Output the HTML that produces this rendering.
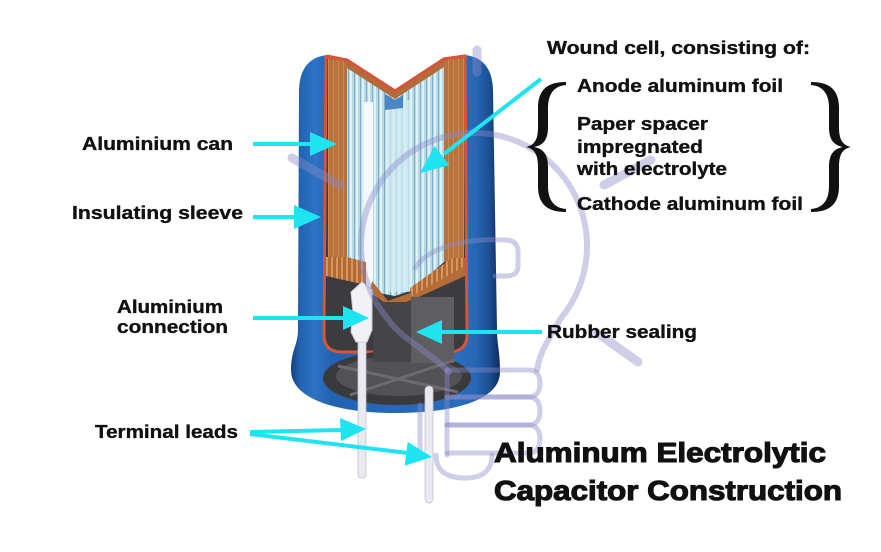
<!DOCTYPE html>
<html><head><meta charset="utf-8"><style>
html,body{margin:0;padding:0;background:#fff;}
svg{display:block;}
text{font-family:"Liberation Sans",Arial,sans-serif;font-weight:bold;fill:#111;stroke:#111;stroke-width:0.35;}
text.t{stroke-width:1.1;}
</style></head><body>
<svg width="881" height="552" viewBox="0 0 881 552" xmlns="http://www.w3.org/2000/svg">
<defs>
 <linearGradient id="bg" gradientUnits="userSpaceOnUse" x1="290" y1="0" x2="500" y2="0">
  <stop offset="0" stop-color="#163d7c"/>
  <stop offset="0.05" stop-color="#2264b2"/>
  <stop offset="0.12" stop-color="#2d74c4"/>
  <stop offset="0.2" stop-color="#2262b0"/>
  <stop offset="0.8" stop-color="#2a6dbd"/>
  <stop offset="0.88" stop-color="#2768b6"/>
  <stop offset="0.95" stop-color="#1c4e92"/>
  <stop offset="1" stop-color="#0f2a5a"/>
 </linearGradient>
 <pattern id="foil" patternUnits="userSpaceOnUse" width="6" height="10">
  <rect width="6" height="10" fill="#b5d9e7"/>
  <rect x="0" width="1" height="10" fill="#7fb0c6"/>
  <rect x="2" width="2" height="10" fill="#e0f1f7"/>
 </pattern>
 <pattern id="brn" patternUnits="userSpaceOnUse" width="5" height="10">
  <rect width="5" height="10" fill="#b8723e"/>
  <rect x="3" width="1" height="10" fill="#cf8a50"/>
 </pattern>
 <pattern id="teeth" patternUnits="userSpaceOnUse" width="5" height="10">
  <rect width="5" height="10" fill="#b06a36"/>
  <rect x="1" width="2" height="10" fill="#d9955c"/>
 </pattern>
</defs>

<!-- body -->
<path d="M327,55 Q300,58 299,90 L298,330 C298,345 291,350 291,370 C291,400 340,413 395,413 C455,413 500,400 500,372 C500,350 497,345 497,330 L493,90 Q492,58 465,55 L444,58 L395,90 L347,59 Z" fill="url(#bg)"/>

<!-- interior -->
<path d="M326,57 L347,60 L395,91 L444,59 L465,56 L467,335 Q467,352 448,352 L342,352 Q324,352 324,335 Z" fill="#3c3c3e" stroke="#d5553a" stroke-width="3"/>

<!-- brown walls -->
<polygon points="328,59 347,61 347,257 328,257" fill="url(#brn)"/>
<polygon points="444,60 464,58 464,262 444,262" fill="url(#brn)"/>
<!-- foil left -->
<polygon points="347,66 373,83 373,262 347,262" fill="url(#foil)"/>
<!-- white strip -->
<polygon points="364,102 373,102 373,295 364,295" fill="#f4f8fa"/>
<!-- center foil -->
<polygon points="373,84 395,98 444,66 444,262 412,290 395,296 373,292" fill="url(#foil)"/>
<rect x="388" y="100" width="22" height="192" fill="#d2eaf3" opacity="0.75"/>
<!-- V brown band -->
<polygon points="347,61 395,92 444,60 444,67 395,99 347,68" fill="#b36b3a"/>
<path d="M327,56 L347,60 L395,91 L444,59 L465,56" fill="none" stroke="#d5553a" stroke-width="3"/>
<!-- core top -->
<polygon points="385,94 395,100 403,95 403,108 385,110" fill="#4a86c4"/>
<!-- brown bottoms with teeth -->
<polygon points="326,257 347,257 366,262 366,285 326,276" fill="url(#teeth)"/>
<polygon points="372,281 388,301 410,293 452,262 465,262 465,276 412,300 390,307 370,292" fill="#b46c38"/>
<polygon points="410,288 452,258 465,258 465,266 412,296" fill="url(#teeth)"/>

<!-- bottom opening -->
<ellipse cx="397" cy="378" rx="74" ry="27" fill="#3a3a3c"/>
<ellipse cx="399" cy="376" rx="63" ry="20" fill="#525255"/>
<!-- rubber -->
<rect x="373" y="302" width="39" height="60" fill="#454547"/>
<rect x="411" y="297" width="43" height="66" fill="#5e5e61"/>
<line x1="338" y1="366" x2="458" y2="392" stroke="#6c6c70" stroke-width="3"/>
<line x1="350" y1="395" x2="455" y2="360" stroke="#6c6c70" stroke-width="3"/>

<!-- leads -->
<rect x="358" y="320" width="8" height="158" rx="3" fill="#e9e9f0" stroke="#c2c2cf" stroke-width="0.8"/>
<rect x="425" y="386" width="8" height="117" rx="4" fill="#e9e9f0" stroke="#c2c2cf" stroke-width="0.8"/>
<!-- tab -->
<polygon points="351,292 362,282 372,290 372,330 367,342 356,342 351,332 353,312" fill="#f2f2f6" stroke="#cfcfd9" stroke-width="1"/>

<!-- watermark lightbulb -->
<g fill="none" stroke="#8a8ac8" stroke-opacity="0.42" stroke-linecap="round" stroke-linejoin="round">
 <path d="M449,372 C430,352 400,338 387,318 A113 113 0 1 1 561,318 C550,338 540,350 537,370" stroke-width="6"/>
 <path d="M415,268 C430,245 470,238 505,240 Q518,240 518,252 L518,266 Q518,276 506,276 L495,276" stroke-width="5"/>
 <path d="M447,370 L528,370 Q540,370 540,383 Q540,397 528,397 L447,397" stroke-width="5"/>
 <path d="M447,397 L528,397 Q540,397 540,411 Q540,425 528,425 L447,425" stroke-width="5"/>
 <path d="M447,425 L528,425 Q540,425 540,439 Q540,453 528,453 L447,453" stroke-width="5"/>
 <path d="M447,370 L447,455" stroke-width="5"/>
 <path d="M420,405 L420,455" stroke-width="5"/>
 <path d="M436,455 Q436,478 465,478 Q492,478 492,455" stroke-width="5"/>
 <line x1="477" y1="50" x2="477" y2="72" stroke-width="9"/>
 <line x1="292" y1="158" x2="340" y2="185" stroke-width="9"/>
 <line x1="604" y1="185" x2="651" y2="160" stroke-width="9"/>
 <line x1="596" y1="332" x2="638" y2="362" stroke-width="9"/>
</g>

<!-- arrows -->
<g fill="#1ee3f0" stroke="#1ee3f0">
 <line x1="253" y1="144" x2="312" y2="144" stroke-width="4"/>
 <polygon points="337,144 310,132 310,156" stroke="none"/>
 <line x1="253" y1="217" x2="296" y2="217" stroke-width="4"/>
 <polygon points="321,217 294,205 294,229" stroke="none"/>
 <line x1="253" y1="318" x2="345" y2="318" stroke-width="4"/>
 <polygon points="369,318 343,306 343,330" stroke="none"/>
 <line x1="250" y1="432" x2="342" y2="430" stroke-width="4"/>
 <polygon points="366,429 340,418 341,441" stroke="none"/>
 <line x1="250" y1="434" x2="408" y2="453" stroke-width="4"/>
 <polygon points="432,457 404.7,465.7 407.7,441.9" stroke="none"/>
 <line x1="542" y1="332" x2="440" y2="332" stroke-width="4"/>
 <polygon points="416,332 442,320 442,344" stroke="none"/>
 <line x1="541" y1="79" x2="444" y2="154" stroke-width="4"/>
 <polygon points="420,173 449.5,165.3 434.7,146.3" stroke="none"/>
</g>

<!-- braces -->
<path id="brace" d="M566,82 C547,82 538,90 538,108 L538,127 C538,139 535,145 526,147 C535,149 538,155 538,167 L538,186 C538,204 547,212 566,212 L566,209 C554,208 548,200 548,186 L548,167 C548,155 544,149 534,147 C544,145 548,139 548,127 L548,108 C548,94 554,86 566,85 Z" fill="#111"/>
<g transform="translate(1377,0) scale(-1,1)">
<path d="M566,82 C547,82 538,90 538,108 L538,127 C538,139 535,145 526,147 C535,149 538,155 538,167 L538,186 C538,204 547,212 566,212 L566,209 C554,208 548,200 548,186 L548,167 C548,155 544,149 534,147 C544,145 548,139 548,127 L548,108 C548,94 554,86 566,85 Z" fill="#111"/>
</g>

<!-- labels -->
<text x="547" y="54" font-size="18" textLength="263" lengthAdjust="spacingAndGlyphs">Wound cell, consisting of:</text>
<text x="577" y="92" font-size="18" textLength="206" lengthAdjust="spacingAndGlyphs">Anode aluminum foil</text>
<text x="577" y="130" font-size="18" textLength="131" lengthAdjust="spacingAndGlyphs">Paper spacer</text>
<text x="577" y="153" font-size="18" textLength="126" lengthAdjust="spacingAndGlyphs">impregnated</text>
<text x="577" y="175" font-size="18" textLength="150" lengthAdjust="spacingAndGlyphs">with electrolyte</text>
<text x="577" y="210" font-size="18" textLength="226" lengthAdjust="spacingAndGlyphs">Cathode aluminum foil</text>
<text x="82" y="150" font-size="18" textLength="151" lengthAdjust="spacingAndGlyphs">Aluminium can</text>
<text x="72" y="219" font-size="18" textLength="171" lengthAdjust="spacingAndGlyphs">Insulating sleeve</text>
<text x="117" y="313" font-size="18" textLength="106" lengthAdjust="spacingAndGlyphs">Aluminium</text>
<text x="117" y="333" font-size="18" textLength="111" lengthAdjust="spacingAndGlyphs">connection</text>
<text x="95" y="438" font-size="18" textLength="143" lengthAdjust="spacingAndGlyphs">Terminal leads</text>
<text x="547" y="338" font-size="18" textLength="150" lengthAdjust="spacingAndGlyphs">Rubber sealing</text>
<text class="t" x="494" y="462" font-size="28" textLength="332" lengthAdjust="spacingAndGlyphs">Aluminum Electrolytic</text>
<text class="t" x="494" y="500" font-size="28" textLength="348" lengthAdjust="spacingAndGlyphs">Capacitor Construction</text>
</svg>
</body></html>
